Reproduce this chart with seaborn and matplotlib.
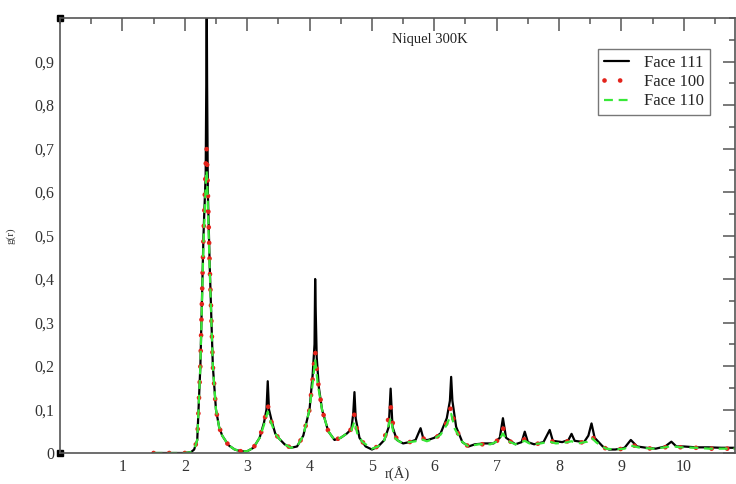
import matplotlib
matplotlib.use("Agg")
import matplotlib.pyplot as plt
import seaborn as sns
import pandas as pd
from matplotlib.ticker import FixedLocator, FixedFormatter, MultipleLocator

# ---- data ----
r_111 = [1.5, 2.0, 2.1, 2.15, 2.2, 2.25, 2.3, 2.335, 2.345, 2.352, 2.358, 2.37, 2.4, 2.45, 2.5, 2.55, 2.6,
         2.7, 2.8, 2.9, 3.0, 3.1, 3.2, 3.27, 3.31, 3.33, 3.35, 3.4, 3.45, 3.5, 3.6, 3.7, 3.8, 3.9, 4.0,
         4.05, 4.08, 4.09, 4.1, 4.115, 4.15, 4.2, 4.3, 4.4, 4.5, 4.6, 4.67, 4.7, 4.72, 4.74, 4.8, 4.9,
         5.0, 5.1, 5.2, 5.27, 5.3, 5.33, 5.4, 5.5, 5.6, 5.7, 5.78, 5.83, 5.9, 6.0, 6.1, 6.2, 6.25, 6.27,
         6.29, 6.35, 6.45, 6.55, 6.65, 6.8, 6.95, 7.05, 7.1, 7.15, 7.3, 7.4, 7.45, 7.5, 7.6, 7.75, 7.85,
         7.9, 8.05, 8.15, 8.2, 8.25, 8.4, 8.47, 8.52, 8.57, 8.7, 8.8, 8.9, 9.05, 9.15, 9.25, 9.4, 9.55,
         9.7, 9.8, 9.88, 10.0, 10.2, 10.4, 10.6, 10.8, 11.0]
g_111 = [0.0, 0.0, 0.002, 0.008, 0.03, 0.2, 0.5, 0.64, 0.85, 1.05, 0.85, 0.6, 0.43, 0.2, 0.1, 0.06, 0.04,
         0.018, 0.008, 0.004, 0.004, 0.012, 0.035, 0.07, 0.1, 0.165, 0.1, 0.07, 0.045, 0.035, 0.02, 0.012,
         0.015, 0.04, 0.1, 0.18, 0.25, 0.40, 0.32, 0.22, 0.15, 0.1, 0.05, 0.03, 0.035, 0.045, 0.055, 0.09,
         0.14, 0.08, 0.035, 0.015, 0.008, 0.015, 0.03, 0.06, 0.148, 0.06, 0.03, 0.022, 0.025, 0.03, 0.057,
         0.03, 0.03, 0.035, 0.045, 0.08, 0.12, 0.175, 0.12, 0.06, 0.025, 0.015, 0.02, 0.022, 0.022, 0.035,
         0.08, 0.035, 0.02, 0.025, 0.049, 0.025, 0.02, 0.025, 0.053, 0.028, 0.025, 0.03, 0.044, 0.028,
         0.025, 0.04, 0.068, 0.035, 0.015, 0.008, 0.008, 0.012, 0.03, 0.015, 0.012, 0.01, 0.015, 0.026,
         0.015, 0.015, 0.013, 0.013, 0.012, 0.012, 0.012]

r_100 = [1.5, 2.0, 2.1, 2.15, 2.2, 2.25, 2.3, 2.34, 2.35, 2.36, 2.4, 2.45, 2.5, 2.55, 2.6, 2.7, 2.8, 2.9,
         3.0, 3.1, 3.2, 3.27, 3.33, 3.37, 3.45, 3.5, 3.6, 3.7, 3.8, 3.9, 4.0, 4.05, 4.09, 4.13, 4.2, 4.3,
         4.4, 4.5, 4.6, 4.67, 4.72, 4.77, 4.85, 5.0, 5.1, 5.2, 5.3, 5.36, 5.45, 5.6, 5.7, 5.79, 5.88, 6.0,
         6.1, 6.2, 6.27, 6.33, 6.45, 6.55, 6.7, 6.9, 7.03, 7.1, 7.17, 7.3, 7.45, 7.55, 7.7, 7.85, 7.95,
         8.1, 8.2, 8.3, 8.45, 8.52, 8.6, 8.75, 8.9, 9.05, 9.15, 9.3, 9.5, 9.7, 9.8, 9.95, 10.2, 10.4,
         10.6, 10.8, 11.0]
g_100 = [0.0, 0.0, 0.002, 0.008, 0.03, 0.2, 0.5, 0.68, 0.70, 0.66, 0.43, 0.2, 0.1, 0.06, 0.04, 0.018,
         0.008, 0.004, 0.004, 0.012, 0.035, 0.07, 0.112, 0.08, 0.045, 0.035, 0.02, 0.012, 0.015, 0.04,
         0.1, 0.17, 0.235, 0.17, 0.1, 0.05, 0.03, 0.035, 0.045, 0.055, 0.09, 0.045, 0.025, 0.01, 0.015,
         0.03, 0.108, 0.04, 0.025, 0.025, 0.028, 0.037, 0.028, 0.033, 0.043, 0.07, 0.108, 0.06, 0.025,
         0.015, 0.02, 0.02, 0.03, 0.058, 0.03, 0.02, 0.032, 0.02, 0.022, 0.03, 0.022, 0.025, 0.03, 0.022,
         0.028, 0.04, 0.025, 0.01, 0.008, 0.01, 0.02, 0.012, 0.01, 0.013, 0.018, 0.013, 0.012, 0.01,
         0.01, 0.01, 0.01]

r_110 = r_100
g_110 = [0.0, 0.0, 0.002, 0.008, 0.03, 0.2, 0.48, 0.63, 0.65, 0.62, 0.42, 0.2, 0.1, 0.06, 0.04, 0.018,
         0.008, 0.004, 0.004, 0.012, 0.035, 0.065, 0.095, 0.075, 0.045, 0.035, 0.02, 0.012, 0.015, 0.04,
         0.1, 0.16, 0.215, 0.16, 0.1, 0.05, 0.03, 0.035, 0.045, 0.052, 0.073, 0.042, 0.025, 0.01, 0.015,
         0.03, 0.08, 0.035, 0.025, 0.025, 0.027, 0.032, 0.027, 0.033, 0.042, 0.065, 0.09, 0.055, 0.025,
         0.015, 0.02, 0.02, 0.028, 0.045, 0.028, 0.02, 0.028, 0.02, 0.022, 0.026, 0.022, 0.024, 0.027,
         0.022, 0.026, 0.035, 0.024, 0.01, 0.008, 0.01, 0.017, 0.012, 0.01, 0.013, 0.016, 0.013, 0.012,
         0.01, 0.01, 0.01, 0.01]

series_labels = ["Face 111", "Face 100", "Face 110"]
x_tick_vals = [1, 2, 3, 4, 5, 6, 7, 8, 9, 10]
x_tick_labels = ["1", "2", "3", "4", "5", "6", "7", "8", "9", "10"]
y_tick_vals = [0, 0.1, 0.2, 0.3, 0.4, 0.5, 0.6, 0.7, 0.8, 0.9]
y_tick_labels = ["0", "0,1", "0,2", "0,3", "0,4", "0,5", "0,6", "0,7", "0,8", "0,9"]
title_text = "Niquel 300K"
x_label = "r(Å)"
y_label = "g(r)"

# ---- plot ----
sns.set_style("white")
plt.rcParams["font.family"] = ["Liberation Serif", "DejaVu Serif"]

fig = plt.figure(figsize=(7.36, 4.84), dpi=100)
ax = fig.add_axes([60 / 736, 31 / 484, 675 / 736, 435 / 484])

df111 = pd.DataFrame({"r": r_111, "g": g_111})
df100 = pd.DataFrame({"r": r_100, "g": g_100})
df110 = pd.DataFrame({"r": r_110, "g": g_110})

sns.lineplot(data=df111, x="r", y="g", ax=ax, color="black", lw=1.6,
             estimator=None, sort=False, label=series_labels[0])
sns.lineplot(data=df100, x="r", y="g", ax=ax, color="#e3231b", lw=3.4,
             estimator=None, sort=False, label=series_labels[1],
             dashes=False)
ax.lines[-1].set_dashes((0.01, 3.3))
ax.lines[-1].set_dash_capstyle("round")
sns.lineplot(data=df110, x="r", y="g", ax=ax, color="#38e838", lw=1.6,
             estimator=None, sort=False, label=series_labels[2])
ax.lines[-1].set_dashes((4, 2.6))

ax.set_xlim(0, 10.82)
ax.set_ylim(0, 1.0)

gray = "#555555"
for s in ax.spines.values():
    s.set_color(gray)
    s.set_linewidth(1.2)
    s.set_visible(True)

ax.xaxis.set_major_locator(FixedLocator(x_tick_vals))
ax.xaxis.set_major_formatter(FixedFormatter(x_tick_labels))
ax.xaxis.set_minor_locator(MultipleLocator(0.5))
ax.yaxis.set_major_locator(FixedLocator(y_tick_vals))
ax.yaxis.set_major_formatter(FixedFormatter(y_tick_labels))
ax.yaxis.set_minor_locator(MultipleLocator(0.05))
ax.tick_params(which="both", direction="in", top=True, right=True, color=gray, width=1.1,
               labelsize=11.5, labelcolor="#333333")
ax.tick_params(which="major", length=9, pad=4)
ax.tick_params(which="minor", length=4.5)

ax.set_xlabel(x_label, fontsize=10.5, color="#333333", labelpad=-6)
ax.set_ylabel(y_label, fontsize=8, color="#333333", labelpad=14)

ax.text(0.548, 0.95, title_text, transform=ax.transAxes, ha="center", va="center",
        fontsize=10.5, color="#222222")

# corner markers of the original plotting program
ax.plot([0, 0], [0, 1], transform=ax.transAxes, ls="none", marker="s", ms=5,
        color="black", clip_on=False)

leg = ax.legend(loc="upper right", bbox_to_anchor=(0.963, 0.929), fontsize=12,
                frameon=True, fancybox=False, handlelength=1.5, borderpad=0.35,
                labelspacing=0.2, handletextpad=0.9, borderaxespad=0)
leg.get_frame().set_edgecolor(gray)
leg.get_frame().set_linewidth(1.0)

fig.savefig("out.png", dpi=100)
